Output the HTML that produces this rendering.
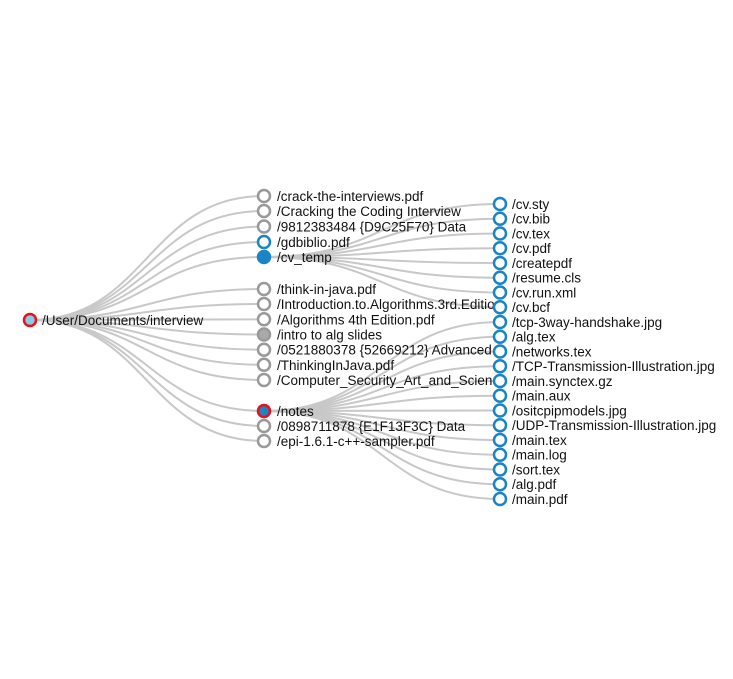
<!DOCTYPE html>
<html><head><meta charset="utf-8"><style>
html,body{margin:0;padding:0;background:#fff;width:733px;height:679px;overflow:hidden}
text{font-family:"Liberation Sans",sans-serif;font-size:13.5px;fill:#111}
.l{fill:none;stroke:#c8c8c8;stroke-width:2}
.g{fill:#fff;stroke:#999;stroke-width:2.5}
.b{fill:#fff;stroke:#1a84c4;stroke-width:2.5}
</style></head><body>
<svg width="733" height="679" xmlns="http://www.w3.org/2000/svg">
<defs><clipPath id="c"><rect x="0" y="0" width="494" height="679"/></clipPath></defs>
<g>
<path class="l" d="M30 320C147 320 147 196 264 196"/>
<path class="l" d="M30 320C147 320 147 211 264 211"/>
<path class="l" d="M30 320C147 320 147 226.5 264 226.5"/>
<path class="l" d="M30 320C147 320 147 242 264 242"/>
<path class="l" d="M30 320C147 320 147 257 264 257"/>
<path class="l" d="M30 320C147 320 147 289 264 289"/>
<path class="l" d="M30 320C147 320 147 304 264 304"/>
<path class="l" d="M30 320C147 320 147 319.3 264 319.3"/>
<path class="l" d="M30 320C147 320 147 334.5 264 334.5"/>
<path class="l" d="M30 320C147 320 147 349.7 264 349.7"/>
<path class="l" d="M30 320C147 320 147 364.8 264 364.8"/>
<path class="l" d="M30 320C147 320 147 380 264 380"/>
<path class="l" d="M30 320C147 320 147 411 264 411"/>
<path class="l" d="M30 320C147 320 147 426 264 426"/>
<path class="l" d="M30 320C147 320 147 441 264 441"/>
<path class="l" d="M264 257C382 257 382 204 500 204"/>
<path class="l" d="M264 257C382 257 382 218.75 500 218.75"/>
<path class="l" d="M264 257C382 257 382 233.5 500 233.5"/>
<path class="l" d="M264 257C382 257 382 248.25 500 248.25"/>
<path class="l" d="M264 257C382 257 382 263 500 263"/>
<path class="l" d="M264 257C382 257 382 277.75 500 277.75"/>
<path class="l" d="M264 257C382 257 382 292.5 500 292.5"/>
<path class="l" d="M264 257C382 257 382 307.25 500 307.25"/>
<path class="l" d="M264 411C382 411 382 322 500 322"/>
<path class="l" d="M264 411C382 411 382 336.75 500 336.75"/>
<path class="l" d="M264 411C382 411 382 351.5 500 351.5"/>
<path class="l" d="M264 411C382 411 382 366.25 500 366.25"/>
<path class="l" d="M264 411C382 411 382 381 500 381"/>
<path class="l" d="M264 411C382 411 382 395.75 500 395.75"/>
<path class="l" d="M264 411C382 411 382 410.5 500 410.5"/>
<path class="l" d="M264 411C382 411 382 425.25 500 425.25"/>
<path class="l" d="M264 411C382 411 382 440 500 440"/>
<path class="l" d="M264 411C382 411 382 454.75 500 454.75"/>
<path class="l" d="M264 411C382 411 382 469.5 500 469.5"/>
<path class="l" d="M264 411C382 411 382 484.25 500 484.25"/>
<path class="l" d="M264 411C382 411 382 499 500 499"/>
</g>
<circle cx="30" cy="320" r="6" fill="#87cde8" stroke="#e8101a" stroke-width="2.5"/>
<text x="42" y="325">/User/Documents/interview</text>
<g>
<circle class="g" cx="264" cy="196" r="6"/>
<circle class="g" cx="264" cy="211" r="6"/>
<circle class="g" cx="264" cy="226.5" r="6"/>
<circle class="b" cx="264" cy="242" r="6"/>
<circle cx="264" cy="257" r="6" fill="#1a84c4" stroke="#1a84c4" stroke-width="2.5"/>
<circle class="g" cx="264" cy="289" r="6"/>
<circle class="g" cx="264" cy="304" r="6"/>
<circle class="g" cx="264" cy="319.3" r="6"/>
<circle cx="264" cy="334.5" r="6" fill="#aaa" stroke="#999" stroke-width="2.5"/>
<circle class="g" cx="264" cy="349.7" r="6"/>
<circle class="g" cx="264" cy="364.8" r="6"/>
<circle class="g" cx="264" cy="380" r="6"/>
<circle cx="264" cy="411" r="6" fill="#1a84c4" stroke="#e8101a" stroke-width="2.5"/>
<circle class="g" cx="264" cy="426" r="6"/>
<circle class="g" cx="264" cy="441" r="6"/>
</g>
<g clip-path="url(#c)">
<text x="277" y="201">/crack-the-interviews.pdf</text>
<text x="277" y="216">/Cracking the Coding Interview</text>
<text x="277" y="231.5">/9812383484 {D9C25F70} Data</text>
<text x="277" y="247">/gdbiblio.pdf</text>
<text x="277" y="262">/cv_temp</text>
<text x="277" y="294">/think-in-java.pdf</text>
<text x="277" y="309">/Introduction.to.Algorithms.3rd.Edition.pdf</text>
<text x="277" y="324.3">/Algorithms 4th Edition.pdf</text>
<text x="277" y="339.5">/intro to alg slides</text>
<text x="277" y="354.7">/0521880378 {52669212} Advanced</text>
<text x="277" y="369.8">/ThinkingInJava.pdf</text>
<text x="277" y="385">/Computer_Security_Art_and_Science</text>
<text x="277" y="416">/notes</text>
<text x="277" y="431">/0898711878 {E1F13F3C} Data</text>
<text x="277" y="446">/epi-1.6.1-c++-sampler.pdf</text>
</g>
<g>
<circle class="b" cx="500" cy="204" r="6"/>
<circle class="b" cx="500" cy="218.75" r="6"/>
<circle class="b" cx="500" cy="233.5" r="6"/>
<circle class="b" cx="500" cy="248.25" r="6"/>
<circle class="b" cx="500" cy="263" r="6"/>
<circle class="b" cx="500" cy="277.75" r="6"/>
<circle class="b" cx="500" cy="292.5" r="6"/>
<circle class="b" cx="500" cy="307.25" r="6"/>
<circle class="b" cx="500" cy="322" r="6"/>
<circle class="b" cx="500" cy="336.75" r="6"/>
<circle class="b" cx="500" cy="351.5" r="6"/>
<circle class="b" cx="500" cy="366.25" r="6"/>
<circle class="b" cx="500" cy="381" r="6"/>
<circle class="b" cx="500" cy="395.75" r="6"/>
<circle class="b" cx="500" cy="410.5" r="6"/>
<circle class="b" cx="500" cy="425.25" r="6"/>
<circle class="b" cx="500" cy="440" r="6"/>
<circle class="b" cx="500" cy="454.75" r="6"/>
<circle class="b" cx="500" cy="469.5" r="6"/>
<circle class="b" cx="500" cy="484.25" r="6"/>
<circle class="b" cx="500" cy="499" r="6"/>
</g>
<g>
<text x="512" y="209">/cv.sty</text>
<text x="512" y="223.7">/cv.bib</text>
<text x="512" y="238.5">/cv.tex</text>
<text x="512" y="253.2">/cv.pdf</text>
<text x="512" y="268">/createpdf</text>
<text x="512" y="282.7">/resume.cls</text>
<text x="512" y="297.5">/cv.run.xml</text>
<text x="512" y="312.2">/cv.bcf</text>
<text x="512" y="327">/tcp-3way-handshake.jpg</text>
<text x="512" y="341.7">/alg.tex</text>
<text x="512" y="356.5">/networks.tex</text>
<text x="512" y="371.2">/TCP-Transmission-Illustration.jpg</text>
<text x="512" y="386">/main.synctex.gz</text>
<text x="512" y="400.7">/main.aux</text>
<text x="512" y="415.5">/ositcpipmodels.jpg</text>
<text x="512" y="430.2">/UDP-Transmission-Illustration.jpg</text>
<text x="512" y="445">/main.tex</text>
<text x="512" y="459.7">/main.log</text>
<text x="512" y="474.5">/sort.tex</text>
<text x="512" y="489.2">/alg.pdf</text>
<text x="512" y="504">/main.pdf</text>
</g>
</svg>
</body></html>
